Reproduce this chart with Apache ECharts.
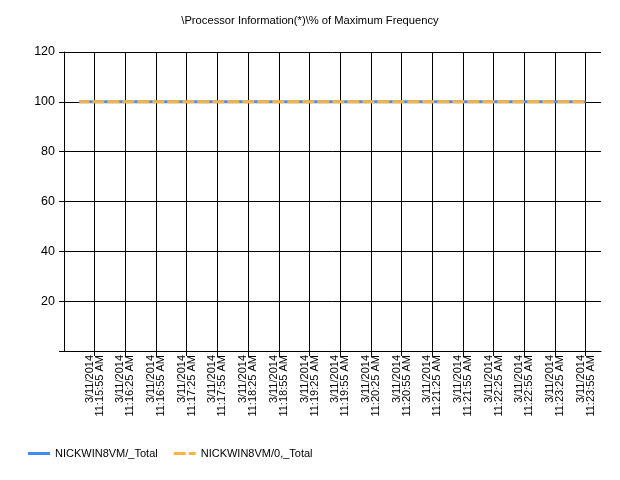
<!DOCTYPE html>
<html>
<head>
<meta charset="utf-8">
<script src="https://cdn.jsdelivr.net/npm/echarts@6/dist/echarts.min.js"></script>
<style>html,body{margin:0;padding:0;background:#fff}#c{width:620px;height:480px}</style>
</head>
<body>
<div id="c"></div>
<script>
const titleText = '\\Processor Information(*)\\% of Maximum Frequency';
const dateLabel = '3/11/2014';
const times = ['11:15:40 AM','11:15:55 AM','11:16:10 AM','11:16:25 AM','11:16:40 AM','11:16:55 AM','11:17:10 AM','11:17:25 AM','11:17:40 AM','11:17:55 AM','11:18:10 AM','11:18:25 AM','11:18:40 AM','11:18:55 AM','11:19:10 AM','11:19:25 AM','11:19:40 AM','11:19:55 AM','11:20:10 AM','11:20:25 AM','11:20:40 AM','11:20:55 AM','11:21:10 AM','11:21:25 AM','11:21:40 AM','11:21:55 AM','11:22:10 AM','11:22:25 AM','11:22:40 AM','11:22:55 AM','11:23:10 AM','11:23:25 AM','11:23:40 AM','11:23:55 AM'];
const seriesNames = ['NICKWIN8VM/_Total', 'NICKWIN8VM/0,_Total'];
const totalValues = [100,100,100,100,100,100,100,100,100,100,100,100,100,100,100,100,100,100,100,100,100,100,100,100,100,100,100,100,100,100,100,100,100,100];
const core0Values = [100,100,100,100,100,100,100,100,100,100,100,100,100,100,100,100,100,100,100,100,100,100,100,100,100,100,100,100,100,100,100,100,100,100];
const yTicks = [0, 20, 40, 60, 80, 100, 120];

const cats = [''].concat(times.map(t => dateLabel + '\n' + t), ['']);
const pad = arr => ['-'].concat(arr, ['-']);
const showIdx = (i) => i % 2 === 0 && i >= 2 && i <= times.length;
const font = "'Liberation Sans', Arial, sans-serif";

const chart = echarts.init(document.getElementById('c'), null, {renderer: 'canvas'});
chart.setOption({
  animation: false,
  backgroundColor: '#ffffff',
  textStyle: {fontFamily: font, color: '#000'},
  title: {
    text: titleText, left: 'center', top: 15, padding: 0,
    textStyle: {fontSize: 11.2, fontWeight: 'normal', color: '#000', fontFamily: font}
  },
  legend: {
    left: 28, top: 448, padding: 0, itemGap: 16, itemWidth: 22, itemHeight: 3,
    textStyle: {fontSize: 11, color: '#000', fontFamily: font},
    data: [
      {name: seriesNames[0], icon: 'path://M0,0H22V3H0Z'},
      {name: seriesNames[1], icon: 'path://M0,0H12V3H0Z M15,0H22V3H15Z'}
    ]
  },
  grid: {left: 64, right: 19, top: 52, bottom: 129, containLabel: false},
  xAxis: {
    type: 'category', boundaryGap: false, data: cats,
    axisLine: {lineStyle: {color: '#000', width: 1}},
    axisTick: {show: true, length: 5, interval: (i) => showIdx(i), lineStyle: {color: '#000'}},
    axisLabel: {
      interval: (i) => showIdx(i), rotate: 90, margin: 4,
      fontSize: 11, lineHeight: 10, color: '#000', fontFamily: font
    },
    splitLine: {show: true, interval: (i) => showIdx(i), lineStyle: {color: '#000', width: 1}}
  },
  yAxis: {
    type: 'value', min: yTicks[0], max: yTicks[yTicks.length - 1], interval: 20,
    axisLine: {show: true, lineStyle: {color: '#000'}},
    axisTick: {show: true, length: 5, lineStyle: {color: '#000'}},
    axisLabel: {fontSize: 12.5, color: '#000', margin: 9, fontFamily: font,
      formatter: v => v === 0 ? '' : String(v)},
    splitLine: {show: true, lineStyle: {color: '#000', width: 1}}
  },
  series: [
    {
      name: seriesNames[0], type: 'line', data: pad(totalValues),
      symbol: 'none', color: '#418CF0',
      lineStyle: {color: '#418CF0', width: 3}, z: 2
    },
    {
      name: seriesNames[1], type: 'line', data: pad(core0Values),
      symbol: 'none', color: '#FCB441',
      lineStyle: {color: '#FCB441', width: 3, type: [12, 3], dashOffset: 2}, z: 3
    }
  ]
});
</script>
</body>
</html>
